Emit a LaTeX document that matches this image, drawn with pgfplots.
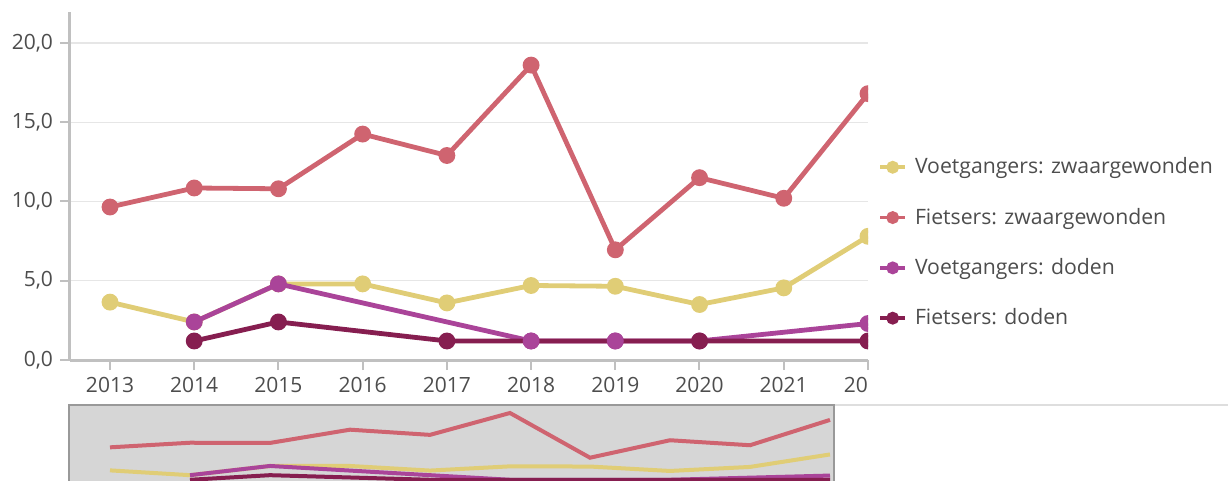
\documentclass[border=0pt]{standalone}
\usepackage{fontspec}
\setmainfont{Open Sans}
\usepackage{pgfplots}
\pgfplotsset{compat=1.18}
\definecolor{cgeel}{RGB}{224,205,118}
\definecolor{crood}{RGB}{207,100,112}
\definecolor{cpaars}{RGB}{170,68,153}
\definecolor{cdonker}{RGB}{134,30,80}
\definecolor{asgrijs}{RGB}{192,192,192}
\definecolor{rastergrijs}{RGB}{230,230,230}
\definecolor{tekst}{RGB}{77,77,77}
\definecolor{navgrijs}{RGB}{214,214,214}

\begin{document}
\begin{tikzpicture}
\useasboundingbox (0,0) rectangle (614pt,-240.5pt);
% hoofdgrafiek
\begin{axis}[
  at={(35pt,-180pt)}, anchor=south west,
  scale only axis, width=399pt, height=174pt,
  xmin=2012.525, xmax=2022, ymin=0, ymax=21.95,
  axis x line*=bottom, axis y line*=left,
  axis line style={-, draw=asgrijs, line width=1.5pt},
  tick align=outside, major tick length=5pt,
  tick style={draw=asgrijs, line width=1pt},
  ytick={0,5,10,15,20}, xtick={2013,...,2022},
  xticklabels={2013,2014,2015,2016,2017,2018,2019,2020,2021,{20\phantom{22}}},
  ymajorgrids, grid style={draw=rastergrijs, line width=0.6pt},
  yticklabel style={/pgf/number format/.cd, fixed, fixed zerofill, precision=1, use comma},
  /pgf/number format/assume math mode=true,
  tick label style={font=\fontsize{10.5}{12}\selectfont, text=tekst},
  clip=true, clip marker paths=true,
  every axis plot/.append style={line width=2.4pt, mark=*, mark size=3pt},
  legend image code/.code={\draw[#1,line width=1.8pt,mark size=2.3pt,mark repeat=2,mark phase=2] plot coordinates {(0cm,0cm) (0.22cm,0cm) (0.44cm,0cm)};},
  legend style={draw=none, fill=none, at={(1.005,0.337)}, anchor=west,
    font=\fontsize{10.6}{13}\selectfont, text=tekst, row sep=11.6pt,
    cells={anchor=west}, nodes={inner xsep=4pt}},
]
\addplot[cgeel] coordinates {(2013,3.65)(2014,2.4)(2015,4.8)(2016,4.8)(2017,3.6)(2018,4.7)(2019,4.65)(2020,3.5)(2021,4.55)(2022,7.8)};
\addlegendentry{Voetgangers: zwaargewonden}
\addplot[crood] coordinates {(2013,9.65)(2014,10.85)(2015,10.8)(2016,14.25)(2017,12.9)(2018,18.6)(2019,6.95)(2020,11.5)(2021,10.2)(2022,16.8)};
\addlegendentry{Fietsers: zwaargewonden}
\addplot[cpaars] coordinates {(2014,2.4)(2015,4.8)(2018,1.2)(2019,1.2)(2020,1.2)(2022,2.3)};
\addlegendentry{Voetgangers: doden}
\addplot[cdonker] coordinates {(2014,1.2)(2015,2.4)(2017,1.2)(2020,1.2)(2022,1.2)};
\addlegendentry{Fietsers: doden}
\addplot[cpaars, only marks, forget plot] coordinates {(2018,1.2)(2019,1.2)};
\end{axis}
% navigator
\draw[draw=rastergrijs!80!asgrijs, line width=0.8pt] (34.5pt,-202.5pt) -- (614pt,-202.5pt);
\begin{axis}[
  at={(34.5pt,-202.5pt)}, anchor=north west,
  scale only axis, width=382.5pt, height=42.5pt,
  xmin=2012.4875, xmax=2022.05, ymin=-1.46, ymax=20.68,
  axis background/.style={fill=navgrijs},
  axis line style={draw=gray!80, line width=0.6pt},
  ticks=none,
  every axis plot/.append style={line width=2pt, no marks},
]
\addplot[cgeel] coordinates {(2013,3.65)(2014,2.4)(2015,4.8)(2016,4.8)(2017,3.6)(2018,4.7)(2019,4.65)(2020,3.5)(2021,4.55)(2022,7.8)};
\addplot[crood] coordinates {(2013,9.65)(2014,10.85)(2015,10.8)(2016,14.25)(2017,12.9)(2018,18.6)(2019,6.95)(2020,11.5)(2021,10.2)(2022,16.8)};
\addplot[cpaars] coordinates {(2014,2.4)(2015,4.8)(2018,1.2)(2019,1.2)(2020,1.2)(2022,2.3)};
\addplot[cdonker] coordinates {(2014,1.2)(2015,2.4)(2017,1.2)(2020,1.2)(2022,1.2)};
\end{axis}
\end{tikzpicture}
\end{document}
